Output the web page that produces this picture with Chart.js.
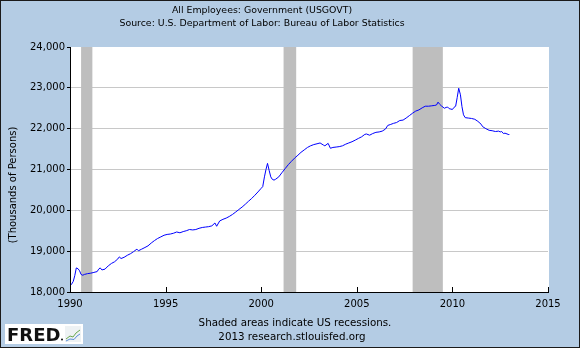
<!DOCTYPE html>
<html>
<head>
<meta charset="utf-8">
<script src="https://cdn.jsdelivr.net/npm/chart.js@4"></script>
<style>
  html, body { margin: 0; padding: 0; background: #b4cce4; }
  canvas { display: block; }
</style>
</head>
<body>
<canvas id="chart" width="580" height="348"></canvas>
<script>
// All Employees: Government (USGOVT), thousands of persons
const years = [
  1990.00, 1990.08, 1990.17, 1990.25, 1990.33, 1990.42, 1990.50, 1990.58, 1990.67, 1990.75, 1990.92,
  1991.08, 1991.25, 1991.42, 1991.50, 1991.58, 1991.67, 1991.83,
  1992.00, 1992.17, 1992.33, 1992.50, 1992.58, 1992.67, 1992.83,
  1993.00, 1993.17, 1993.33, 1993.50, 1993.58, 1993.75, 1993.92,
  1994.08, 1994.25, 1994.42, 1994.58, 1994.75, 1994.92,
  1995.08, 1995.25, 1995.42, 1995.58, 1995.75, 1995.92,
  1996.08, 1996.25, 1996.42, 1996.58, 1996.75, 1996.92,
  1997.08, 1997.25, 1997.42, 1997.58, 1997.67, 1997.83,
  1998.00, 1998.17, 1998.33, 1998.50, 1998.67, 1998.83,
  1999.00, 1999.17, 1999.33, 1999.50, 1999.67, 1999.83,
  2000.00, 2000.08, 2000.17, 2000.25, 2000.33, 2000.42, 2000.50, 2000.58, 2000.67, 2000.75, 2000.92,
  2001.08, 2001.25, 2001.42, 2001.58, 2001.75, 2001.92,
  2002.08, 2002.25, 2002.42, 2002.58, 2002.75, 2002.92,
  2003.08, 2003.25, 2003.33, 2003.50, 2003.62, 2003.75, 2003.92,
  2004.08, 2004.25, 2004.42, 2004.58, 2004.75, 2004.92,
  2005.08, 2005.25, 2005.42, 2005.50, 2005.67, 2005.83,
  2006.00, 2006.17, 2006.33, 2006.50, 2006.62, 2006.75, 2006.92,
  2007.08, 2007.25, 2007.42, 2007.58, 2007.75, 2007.92,
  2008.08, 2008.25, 2008.42, 2008.58, 2008.75, 2008.92,
  2009.08, 2009.17, 2009.25, 2009.33, 2009.42, 2009.58, 2009.67, 2009.75, 2009.83, 2009.92,
  2010.00, 2010.08, 2010.17, 2010.25, 2010.33, 2010.42, 2010.50, 2010.58, 2010.67, 2010.83,
  2011.00, 2011.17, 2011.33, 2011.50, 2011.58, 2011.75, 2011.92,
  2012.08, 2012.25, 2012.42, 2012.50, 2012.58, 2012.67, 2012.75, 2012.92, 2012.96
];
const employees = [
  18150, 18190, 18260, 18400, 18590, 18570, 18520, 18430, 18410, 18430, 18450,
  18460, 18480, 18500, 18560, 18590, 18540, 18560,
  18640, 18700, 18740, 18810, 18860, 18820, 18850,
  18900, 18940, 18990, 19050, 19010, 19050, 19090,
  19130, 19200, 19260, 19310, 19350, 19390,
  19410, 19420, 19440, 19470, 19450, 19480,
  19500, 19530, 19520, 19530, 19560, 19580,
  19590, 19600, 19620, 19690, 19610, 19740,
  19780, 19810, 19850, 19900, 19960, 20020,
  20080, 20150, 20220, 20290, 20370, 20450,
  20540, 20580, 20820, 21000, 21150, 20970, 20820, 20760, 20740, 20760, 20820,
  20920, 21020, 21120, 21200, 21280, 21350,
  21420, 21480, 21540, 21580, 21610, 21630,
  21650, 21600, 21580, 21640, 21520, 21540, 21550,
  21560, 21580, 21620, 21650, 21680, 21720,
  21760, 21800, 21860, 21870, 21840, 21880,
  21910, 21920, 21940, 21990, 22080, 22100, 22130,
  22150, 22200, 22210, 22260, 22320, 22380,
  22430, 22460, 22510, 22550, 22550, 22560,
  22570, 22580, 22650, 22600, 22560, 22500, 22520, 22530, 22490, 22480,
  22470, 22520, 22550, 22760, 22990, 22830, 22540, 22340, 22270, 22260,
  22250, 22230, 22180, 22110, 22050, 22000, 21960,
  21950, 21930, 21940, 21920, 21930, 21880, 21890, 21860, 21850
];

// US recessions (shaded bands)
const recessionStarts = [1990.58, 2001.17, 2007.92];
const recessionEnds   = [1991.17, 2001.83, 2009.50];

// Axis ticks
const xTicks = [1990, 1995, 2000, 2005, 2010, 2015];
const yTicks = [18000, 19000, 20000, 21000, 22000, 23000, 24000];

const BG = '#b4cce4';
const FONT = '"DejaVu Sans", Verdana, sans-serif';

const fredFrame = {
  id: 'fredFrame',
  beforeDraw(chart) {
    const { ctx, chartArea: a } = chart;
    ctx.save();
    ctx.fillStyle = BG;
    ctx.fillRect(0, 0, chart.width, chart.height);
    ctx.fillStyle = '#ffffff';
    ctx.fillRect(a.left, a.top, a.right - a.left + 1, a.bottom - a.top);
    ctx.restore();
  },
  beforeDatasetsDraw(chart) {
    const { ctx, chartArea: a, scales: { x } } = chart;
    ctx.save();
    // recession bands over the grid
    ctx.fillStyle = '#bebebe';
    recessionStarts.forEach((s, i) => {
      const x0 = x.getPixelForValue(s);
      const x1 = x.getPixelForValue(recessionEnds[i]);
      ctx.fillRect(x0, a.top, x1 - x0, a.bottom - a.top);
    });
    // inward tick marks on the time axis
    ctx.strokeStyle = '#000';
    ctx.lineWidth = 1;
    xTicks.forEach(v => {
      const px = Math.round(x.getPixelForValue(v)) + 0.5;
      ctx.beginPath();
      ctx.moveTo(px, a.bottom);
      ctx.lineTo(px, a.bottom - 5);
      ctx.stroke();
    });
    ctx.restore();
  },
  afterDraw(chart) {
    const { ctx } = chart;
    ctx.save();
    ctx.fillStyle = '#000';
    ctx.textAlign = 'center';
    ctx.textBaseline = 'middle';

    ctx.font = '9.4px ' + FONT;
    ctx.fillText('All Employees: Government (USGOVT)', 262, 11);
    ctx.fillText('Source: U.S. Department of Labor: Bureau of Labor Statistics', 262, 23.5);

    ctx.save();
    ctx.translate(13, 185);
    ctx.rotate(-Math.PI / 2);
    ctx.font = '10px ' + FONT;
    ctx.fillText('(Thousands of Persons)', 0, 0);
    ctx.restore();

    ctx.font = '10.3px ' + FONT;
    ctx.fillText('Shaded areas indicate US recessions.', 295, 323.5);
    ctx.fillText('2013 research.stlouisfed.org', 292, 337);

    // FRED badge
    ctx.fillStyle = '#ffffff';
    ctx.fillRect(5, 324, 78, 20);
    ctx.fillStyle = '#111';
    ctx.textAlign = 'left';
    ctx.textBaseline = 'alphabetic';
    ctx.font = 'bold 18px ' + FONT;
    ctx.fillText('FRED', 7, 340.5);
    ctx.beginPath();
    ctx.arc(62, 339.5, 1, 0, Math.PI * 2);
    ctx.fill();
    ctx.fillStyle = '#eef2f4';
    ctx.fillRect(65, 326, 16, 16);
    ctx.lineWidth = 1;
    ctx.strokeStyle = '#6aa84f';
    ctx.beginPath();
    ctx.moveTo(66, 339); ctx.lineTo(70, 336); ctx.lineTo(73, 337); ctx.lineTo(76, 333); ctx.lineTo(80, 330);
    ctx.stroke();
    ctx.strokeStyle = '#5b8fd6';
    ctx.beginPath();
    ctx.moveTo(66, 341); ctx.lineTo(70, 339); ctx.lineTo(74, 339.5); ctx.lineTo(77, 336); ctx.lineTo(80, 334);
    ctx.stroke();

    // outer frame
    ctx.strokeStyle = '#1a1a1a';
    ctx.lineWidth = 1;
    ctx.strokeRect(0.5, 0.5, chart.width - 1, chart.height - 1);
    ctx.restore();
  }
};

new Chart(document.getElementById('chart'), {
  type: 'line',
  data: {
    datasets: [{
      data: years.map((yr, i) => ({ x: yr, y: employees[i] })),
      borderColor: '#0000ff',
      borderWidth: 1,
      pointRadius: 0,
      tension: 0,
      fill: false
    }]
  },
  options: {
    responsive: false,
    animation: false,
    devicePixelRatio: 1,
    layout: { padding: { top: 47, right: 32, left: 0, bottom: 0 } },
    plugins: { legend: { display: false }, tooltip: { enabled: false }, title: { display: false } },
    scales: {
      x: {
        type: 'linear',
        min: 1990,
        max: 2015,
        afterBuildTicks: s => { s.ticks = xTicks.map(v => ({ value: v })); },
        afterFit: s => { s.height = 56; },
        grid: { drawOnChartArea: false, drawTicks: false },
        border: { display: true, color: '#000', width: 1, z: 1 },
        ticks: {
          color: '#000',
          font: { family: FONT, size: 10 },
          padding: 6,
          maxRotation: 0,
          autoSkip: false,
          callback: v => String(v)
        }
      },
      y: {
        min: 18000,
        max: 24000,
        afterBuildTicks: s => { s.ticks = yTicks.map(v => ({ value: v })); },
        afterFit: s => { s.width = 70; },
        grid: {
          color: c => (c.tick && (c.tick.value === 24000 || c.tick.value === 18000)) ? 'rgba(0,0,0,0)' : '#c8c8c8',
          tickColor: '#000',
          tickLength: 3,
          lineWidth: 1
        },
        border: { display: true, color: '#000', width: 1, z: 1 },
        ticks: {
          color: '#000',
          font: { family: FONT, size: 10 },
          padding: 2,
          callback: v => v.toLocaleString('en-US')
        }
      }
    }
  },
  plugins: [fredFrame]
});
</script>
</body>
</html>
